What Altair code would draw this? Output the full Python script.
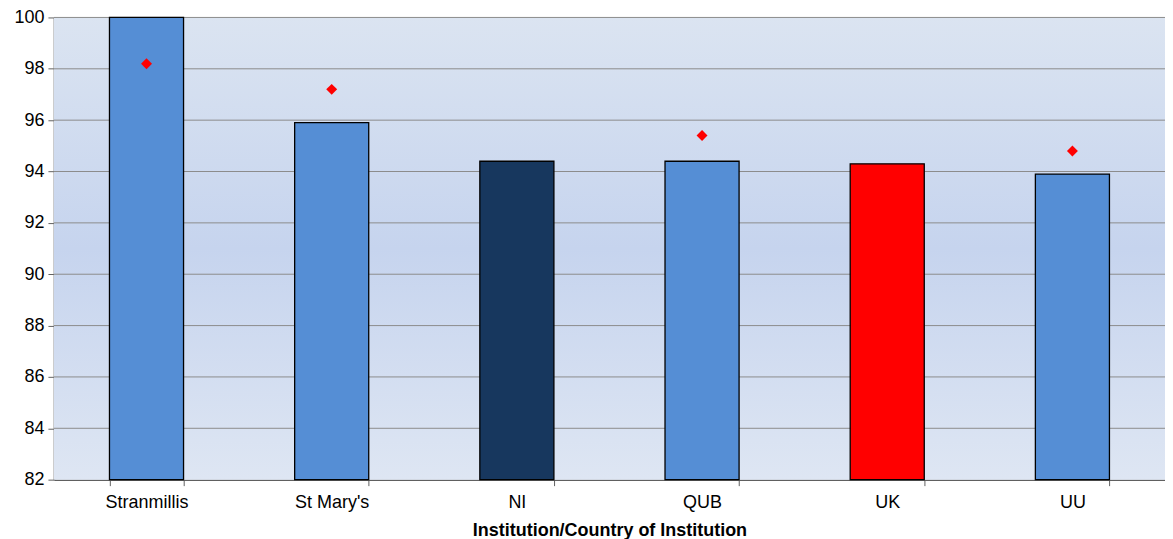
import altair as alt
import pandas as pd

categories = ["Stranmillis", "St Mary's", "NI", "QUB", "UK", "UU"]
bar_values = [100.0, 95.9, 94.4, 94.4, 94.3, 93.9]
bar_colors = ["#558ED5", "#558ED5", "#17375E", "#558ED5", "#FF0000", "#558ED5"]
diamond_cats = ["Stranmillis", "St Mary's", "QUB", "UU"]
diamond_values = [98.2, 97.2, 95.4, 94.8]
grid_values = [84, 86, 88, 90, 92, 94, 96, 98, 100]
y_min, y_max = 82, 100

bars_df = pd.DataFrame({"cat": categories, "value": bar_values, "color": bar_colors})
dia_df = pd.DataFrame({"cat": diamond_cats, "value": diamond_values})
grid_df = pd.DataFrame({"g": grid_values})
bg_df = pd.DataFrame({"lo": [y_min], "hi": [y_max]})

W, H = 1113, 463
font = "Liberation Sans"

yscale = alt.Scale(domain=[y_min, y_max], nice=False, zero=False)
xenc = alt.X("cat:N", sort=categories, title="Institution/Country of Institution",
             scale=alt.Scale(paddingInner=0.6, paddingOuter=0.3),
             axis=alt.Axis(labelAngle=0, tickBand="extent", tickSize=6,
                           labelPadding=8, titlePadding=10))

bg = alt.Chart(bg_df).mark_rect(
    color=alt.Gradient(gradient="linear",
                       stops=[alt.GradientStop(color="#DBE4F1", offset=0),
                              alt.GradientStop(color="#C6D4EE", offset=0.5),
                              alt.GradientStop(color="#DEE6F3", offset=1)],
                       x1=0, y1=0, x2=0, y2=1)
).encode(
    x=alt.value(0), x2=alt.value(W),
    y=alt.Y("hi:Q", scale=yscale), y2="lo:Q"
)

grid = alt.Chart(grid_df).mark_rule(color="#8C8C8C", strokeWidth=1).encode(
    y=alt.Y("g:Q", scale=yscale), x=alt.value(0), x2=alt.value(W)
)

bars = alt.Chart(bars_df).mark_bar(stroke="#000000", strokeWidth=1.3).encode(
    x=xenc,
    y=alt.Y("value:Q", scale=yscale, title=None,
            axis=alt.Axis(values=[82, 84, 86, 88, 90, 92, 94, 96, 98, 100],
                          grid=False, tickSize=6, labelPadding=4)),
    y2=alt.datum(y_min),
    color=alt.Color("color:N", scale=None),
)

dias = alt.Chart(dia_df).mark_point(shape="diamond", filled=True, color="#FF0000",
                                    size=120, opacity=1).encode(
    x=alt.X("cat:N", sort=categories),
    y=alt.Y("value:Q", scale=yscale),
)

chart = alt.layer(bg, grid, bars, dias).properties(
    width=W, height=H,
    autosize=alt.AutoSizeParams(type="none"),
    padding={"left": 46, "top": 9, "right": 0, "bottom": 62},
).configure_view(stroke=None).configure_axis(
    labelFont=font, titleFont=font, labelFontSize=18, titleFontSize=18,
    labelColor="#000000", titleColor="#000000",
    domainColor="#606060", tickColor="#606060", domainWidth=1.5,
).configure_axisX(titleFontWeight="bold")

chart.save("out.html", embed_options={"renderer": "svg", "actions": False})
